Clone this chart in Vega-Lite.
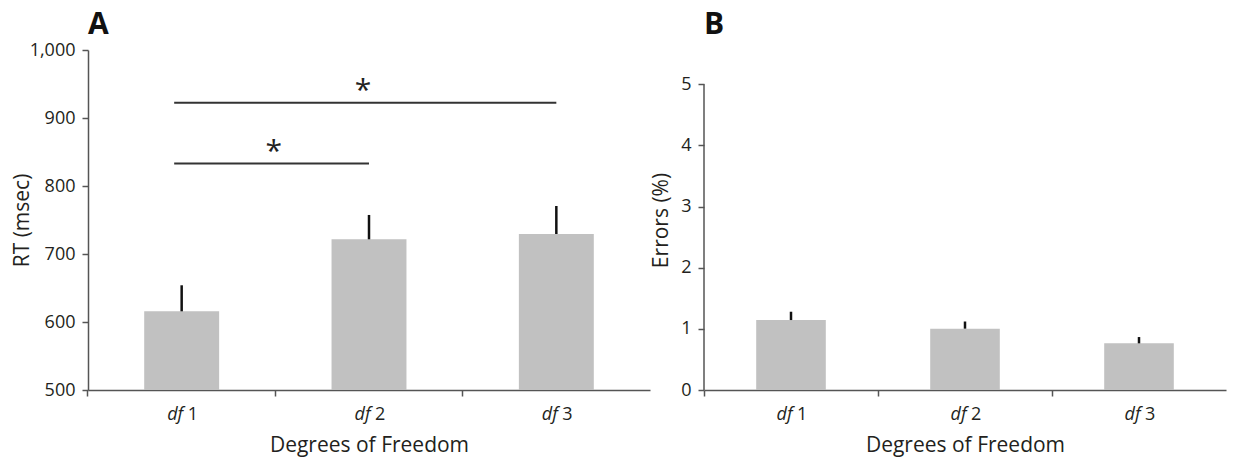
{
  "$schema": "https://vega.github.io/schema/vega-lite/v6.json",
  "background": "white",
  "padding": {"left": 11, "top": 10, "right": 5, "bottom": 2},
  "spacing": 0,
  "datasets": {
    "rt": [
      {"df": "df 1", "mean": 615.7, "upper": 654},
      {"df": "df 2", "mean": 721.6, "upper": 757.4},
      {"df": "df 3", "mean": 729.4, "upper": 770.6}
    ],
    "err": [
      {"df": "df 1", "mean": 1.144, "upper": 1.28},
      {"df": "df 2", "mean": 1.003, "upper": 1.12},
      {"df": "df 3", "mean": 0.763, "upper": 0.866}
    ],
    "sig": [
      {"from": "df 1", "to": "df 3", "y": 922.6},
      {"from": "df 1", "to": "df 2", "y": 833}
    ],
    "stars": [
      {"pos": "top", "df": "df 2", "y": 927, "label": "*"},
      {"pos": "low", "df": "df 1", "y": 837, "label": "*"}
    ],
    "axisline": [
      {"df": "df 1", "from": 0, "to": 5}
    ]
  },
  "hconcat": [
    {
      "width": 562,
      "height": 340,
      "title": {"text": "A", "offset": 1},
      "resolve": {"axis": {"x": "independent"}},
      "layer": [
        {
          "data": {"name": "rt"},
          "mark": {"type": "bar", "color": "#c1c1c1"},
          "encoding": {
            "x": {"field": "df", "type": "nominal", "sort": null,
              "scale": {"paddingInner": 0.6, "paddingOuter": 0.3},
              "axis": {"orient": "bottom", "title": "Degrees of Freedom", "labelExpr": "'df'", "labelFontStyle": "italic", "labelAlign": "right", "labelOffset": 1.5, "labelAngle": 0, "bandPosition": -0.75, "labelPadding": 9, "titlePadding": 11}},
            "y": {"field": "mean", "type": "quantitative",
              "scale": {"domain": [500, 1000], "zero": false, "nice": false},
              "axis": {"title": "RT (msec)", "values": [500, 600, 700, 800, 900, 1000], "format": ",d", "labelPadding": 7, "titlePadding": -3}},
            "y2": {"datum": 500}
          }
        },
        {
          "data": {"name": "rt"},
          "mark": {"type": "rule", "color": "#111111", "strokeWidth": 2.5},
          "encoding": {
            "x": {"field": "df", "type": "nominal", "sort": null,
              "axis": {"orient": "bottom", "title": null, "domain": false, "tickOpacity": 0, "labelExpr": "replace(datum.value, 'df ', '')", "labelAlign": "left", "labelOffset": 6, "labelAngle": 0, "bandPosition": -0.75, "labelPadding": 9}},
            "y": {"field": "mean", "type": "quantitative", "title": "RT (msec)"},
            "y2": {"field": "upper"}
          }
        },
        {
          "data": {"name": "sig"},
          "mark": {"type": "rule", "color": "#333333", "strokeWidth": 2},
          "encoding": {
            "x": {"field": "from", "type": "nominal", "bandPosition": 0.4, "axis": null},
            "x2": {"field": "to"},
            "y": {"field": "y", "type": "quantitative", "title": "RT (msec)"}
          }
        },
        {
          "data": {"name": "stars"},
          "transform": [{"filter": "datum.pos == 'top'"}],
          "mark": {"type": "text", "fontSize": 30, "baseline": "alphabetic", "align": "center", "color": "#222222", "font": "Open Sans"},
          "encoding": {
            "x": {"field": "df", "type": "nominal", "bandPosition": 0.42, "axis": null},
            "y": {"field": "y", "type": "quantitative", "title": "RT (msec)"},
            "text": {"field": "label"}
          }
        },
        {
          "data": {"name": "stars"},
          "transform": [{"filter": "datum.pos == 'low'"}],
          "mark": {"type": "text", "fontSize": 30, "baseline": "alphabetic", "align": "center", "color": "#222222", "font": "Open Sans"},
          "encoding": {
            "x": {"field": "df", "type": "nominal", "bandPosition": 1.73, "axis": null},
            "y": {"field": "y", "type": "quantitative", "title": "RT (msec)"},
            "text": {"field": "label"}
          }
        }
      ]
    },
    {
      "width": 522,
      "height": 340,
      "title": {"text": "B", "offset": 10},
      "resolve": {"axis": {"x": "independent"}},
      "layer": [
        {
          "data": {"name": "err"},
          "mark": {"type": "bar", "color": "#c1c1c1"},
          "encoding": {
            "x": {"field": "df", "type": "nominal", "sort": null,
              "scale": {"paddingInner": 0.6, "paddingOuter": 0.3},
              "axis": {"orient": "bottom", "title": "Degrees of Freedom", "labelExpr": "'df'", "labelFontStyle": "italic", "labelAlign": "right", "labelOffset": 1.5, "labelAngle": 0, "bandPosition": -0.75, "labelPadding": 9, "titlePadding": 11}},
            "y": {"field": "mean", "type": "quantitative",
              "scale": {"domain": [0, 5.56], "nice": false, "zero": true},
              "axis": {"title": "Errors (%)", "values": [0, 1, 2, 3, 4, 5], "format": "d", "domain": false, "labelPadding": 7, "titlePadding": 9}}
          }
        },
        {
          "data": {"name": "err"},
          "mark": {"type": "rule", "color": "#111111", "strokeWidth": 2.5},
          "encoding": {
            "x": {"field": "df", "type": "nominal", "sort": null,
              "axis": {"orient": "bottom", "title": null, "domain": false, "tickOpacity": 0, "labelExpr": "replace(datum.value, 'df ', '')", "labelAlign": "left", "labelOffset": 6, "labelAngle": 0, "bandPosition": -0.75, "labelPadding": 9}},
            "y": {"field": "mean", "type": "quantitative", "title": "Errors (%)"},
            "y2": {"field": "upper"}
          }
        },
        {
          "data": {"name": "axisline"},
          "mark": {"type": "rule", "color": "#555555", "strokeWidth": 1.5},
          "encoding": {
            "x": {"field": "df", "type": "nominal", "bandPosition": -0.75, "axis": null},
            "y": {"field": "from", "type": "quantitative", "title": "Errors (%)"},
            "y2": {"field": "to"}
          }
        }
      ]
    }
  ],
  "config": {
    "font": "Open Sans",
    "view": {"stroke": null},
    "axis": {"domainColor": "#555555", "domainWidth": 1.5, "tickColor": "#555555", "tickWidth": 1.5, "tickSize": 6, "labelFont": "Open Sans", "labelFontSize": 18, "labelColor": "#231f20", "titleFont": "Open Sans", "titleFontSize": 21, "titleFontWeight": "normal", "titleColor": "#231f20", "grid": false},
    "title": {"font": "Open Sans", "fontSize": 30, "fontWeight": "bold", "anchor": "start", "frame": "group", "color": "#111111"}
  }
}
